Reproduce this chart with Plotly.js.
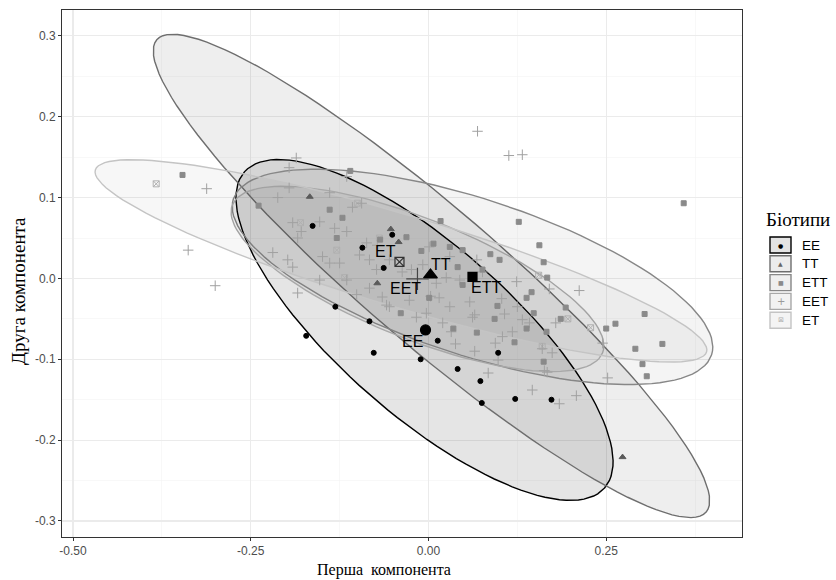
<!DOCTYPE html>
<html>
<head>
<meta charset="utf-8">
<script src="https://cdn.plot.ly/plotly-3.0.1.min.js"></script>
<style>html,body{margin:0;padding:0;background:#fff;}#chart{width:836px;height:580px;}</style>
</head>
<body>
<div id="chart"></div>
<script>
// ---- data ----
var groups = ["EE", "TT", "ETT", "EET", "ET"];

var eeX = [-0.163,-0.093,-0.063,-0.051,-0.131,-0.083,-0.077,0.013,-0.011,0.041,0.098,0.073,0.075,0.122,0.173,-0.172];
var eeY = [0.065,0.038,0.013,0.054,-0.035,-0.053,-0.092,-0.077,-0.100,-0.112,-0.092,-0.127,-0.154,-0.149,-0.150,-0.071];

var ttX = [-0.167,-0.053,-0.042,-0.072,0.273];
var ttY = [0.101,0.061,0.045,-0.006,-0.221];

var ettX = [-0.346,-0.239,-0.139,-0.121,-0.129,-0.110,-0.031,-0.010,0.007,0.017,0.030,0.048,0.087,0.100,0.127,0.041,0.048,-0.039,0.035,0.068,0.001,0.097,0.138,0.121,0.093,-0.068,0.359,0.156,0.162,0.167,0.145,0.148,0.193,0.186,0.138,0.166,0.162,0.263,0.250,0.304,0.329,0.291,0.301,0.307,0.076];
var ettY = [0.128,0.090,0.085,0.075,0.050,0.133,0.051,0.034,0.043,0.071,0.039,0.035,0.030,0.023,0.070,0.014,-0.008,-0.043,-0.062,-0.067,-0.024,-0.034,-0.024,-0.079,-0.050,0.048,0.093,0.041,0.020,0.001,-0.017,-0.043,-0.036,-0.050,-0.062,-0.066,-0.103,-0.056,-0.062,-0.044,-0.081,-0.087,-0.106,-0.121,0.011];

var eetX = [0.069,0.113,0.132,-0.312,-0.338,-0.300,-0.186,-0.196,-0.115,0.146,0.184,0.208,0.252,0.084,0.098,0.094,0.065,0.038,0.174,0.160,0.167,0.163,0.245,0.124,0.212,0.179,0.118,0.068,0.107,0.132,0.170,0.103,0.062,0.125,-0.196,-0.212,-0.139,-0.107,-0.094,-0.191,-0.179,-0.184,-0.153,-0.132,-0.115,-0.087,-0.072,-0.219,-0.198,-0.191,-0.149,-0.139,-0.125,-0.097,-0.083,-0.073,-0.055,-0.037,-0.024,-0.008,0.001,0.030,0.011,0.025,0.044,0.076,-0.083,-0.153,-0.115,-0.101,-0.065,-0.055,-0.027,0.003,0.015,0.030,0.058,0.065,-0.003,-0.017,0.020,0.032,0.104,0.142,-0.059,-0.184];
var eetY = [0.182,0.152,0.153,0.111,0.035,-0.009,0.149,0.137,0.126,-0.138,-0.155,-0.145,-0.123,-0.117,-0.101,-0.080,-0.090,-0.081,-0.092,-0.087,-0.116,-0.114,-0.080,-0.004,-0.015,-0.055,-0.066,0.023,-0.044,-0.051,-0.013,-0.025,-0.048,-0.035,0.112,0.100,0.106,0.088,0.093,0.069,0.058,0.050,0.070,0.062,0.058,0.044,0.041,0.032,0.023,0.014,0.027,0.019,0.019,0.029,0.023,0.011,0.023,0.008,0.011,0.017,0.039,0.027,-0.006,0.001,-0.002,0.008,-0.012,-0.002,-0.002,-0.020,-0.023,-0.035,-0.027,-0.022,-0.024,-0.035,-0.029,-0.045,-0.043,-0.048,-0.055,-0.066,-0.072,-0.055,-0.033,-0.018];

var etX = [-0.383,-0.180,-0.129,-0.118,-0.069,-0.100,0.155,0.196,0.160,0.228];
var etY = [0.117,0.069,0.035,0.001,0.050,0.093,0.004,-0.050,-0.084,-0.061];

// group centroids (EE, TT, ETT, EET, ET)
var centX = [-0.0042, 0.0028, 0.0619, -0.0155, -0.0408];
var centY = [-0.0637, 0.0043, 0.0019, -0.0006, 0.0204];

// confidence ellipses: centre and two conjugate semi-axis vectors (EE, TT, ETT, EET, ET)
var ellCx = [-0.0056, 0.0042, 0.0619, -0.0155, -0.0387];
var ellCy = [-0.0637, 0.0031, 0.0019, -0.0006, 0.0217];
var ellAx = [0.2533, 0.3864, 0.3363, 0.2603, 0.4299];
var ellAy = [-0.1955, -0.2920, -0.0965, -0.0916, -0.1126];
var ellBx = [-0.0788, -0.0623, -0.0341, -0.0314, -0.0184];
var ellBy = [-0.0789, -0.0638, -0.0918, -0.0689, -0.0546];

var xTicks = [-0.50, -0.25, 0.00, 0.25];
var xTickText = ["-0.50", "-0.25", "0.00", "0.25"];
var yTicks = [-0.3, -0.2, -0.1, 0.0, 0.1, 0.2, 0.3];
var yTickText = ["-0.3", "-0.2", "-0.1", "0.0", "0.1", "0.2", "0.3"];

// ---- styles ----
var lineCol = ["#000000", "#6e6e6e", "#878787", "#a8a8a8", "#c4c4c4"];
var fillCol = ["rgba(0,0,0,0.10)", "rgba(0,0,0,0.065)", "rgba(0,0,0,0.045)", "rgba(0,0,0,0.035)", "rgba(0,0,0,0.03)"];
var ptSym = ["circle", "triangle-up", "square", "cross-thin-open", "square-x-open"];
var ptCol = ["#000000", "#5a5a5a", "#8a8a8a", "#a0a0a0", "#b0b0b0"];
var ptSize = [5, 6, 5, 7.5, 6];

var traces = [];
for (var g = 0; g < groups.length; g++) {
  var ex = [], ey = [];
  for (var k = 0; k <= 120; k++) {
    var t = 2 * Math.PI * k / 120;
    ex.push(ellCx[g] + ellAx[g] * Math.cos(t) + ellBx[g] * Math.sin(t));
    ey.push(ellCy[g] + ellAy[g] * Math.cos(t) + ellBy[g] * Math.sin(t));
  }
  traces.push({
    x: ex, y: ey, type: "scatter", mode: "lines", fill: "toself",
    fillcolor: fillCol[g], line: {color: lineCol[g], width: 1.4},
    hoverinfo: "skip", showlegend: false
  });
}
var ptX = [eeX, ttX, ettX, eetX, etX];
var ptY = [eeY, ttY, ettY, eetY, etY];
var order = [4, 3, 2, 1, 0];
for (var i = 0; i < order.length; i++) {
  var g2 = order[i];
  traces.push({
    x: ptX[g2], y: ptY[g2], type: "scatter", mode: "markers", name: groups[g2],
    marker: {symbol: ptSym[g2], size: ptSize[g2], color: ptCol[g2],
             line: {color: ptCol[g2], width: 1}},
    showlegend: false
  });
}
var centSym = ["circle", "triangle-up", "square", "cross-thin-open", "square-x-open"];
var centSize = [10, 12, 9, 16, 9];
var centCol = ["#000000", "#000000", "#000000", "#444444", "#333333"];
for (var c = 0; c < groups.length; c++) {
  traces.push({
    x: [centX[c]], y: [centY[c]], type: "scatter", mode: "markers",
    marker: {symbol: centSym[c], size: centSize[c], color: centCol[c],
             line: {color: centCol[c], width: 1.2}},
    showlegend: false
  });
}

// label offsets in px (EE, TT, ETT, EET, ET)
var labDx = [-13, 11, 14, -12, -14];
var labDy = [-12, 10, -11, -10, 10];
var annotations = [];
for (var a = 0; a < groups.length; a++) {
  annotations.push({
    x: centX[a], y: centY[a], xref: "x", yref: "y", text: groups[a], showarrow: false,
    xshift: labDx[a], yshift: labDy[a],
    font: {family: "Liberation Sans, Arial, sans-serif", size: 16, color: "#000"}
  });
}

// frame geometry (px)
var L = 62, R = 742, T = 10, B = 537;
function px(xp) { return (xp - L) / (R - L); }
function py(yp) { return (B - yp) / (B - T); }

// axis titles
var serif = "Liberation Serif, Times New Roman, serif";
annotations.push({
  x: px(384), y: py(569.5), xref: "paper", yref: "paper", xanchor: "center", yanchor: "middle",
  text: "Перша  компонента", showarrow: false, borderpad: 0,
  font: {family: serif, size: 16, color: "#000"}
});
annotations.push({
  x: px(18), y: py(291), xref: "paper", yref: "paper", xanchor: "center", yanchor: "middle",
  text: "Друга компонента", showarrow: false, textangle: -90,
  font: {family: serif, size: 19, color: "#000"}
});

// manual legend
var shapes = [];
annotations.push({
  x: px(764), y: py(219), xref: "paper", yref: "paper", xanchor: "left", yanchor: "middle",
  text: "Біотипи", showarrow: false,
  font: {family: serif, size: 19, color: "#000"}
});
var legFill = ["#e3e3e3", "#ececec", "#efefef", "#f2f2f2", "#f4f4f4"];
var legGlyph = ["●", "▲", "■", "+", "⊠"];
var legGlyphSize = [6, 6, 6, 10, 7];
var legGlyphCol = ["#000", "#666", "#8a8a8a", "#9a9a9a", "#b0b0b0"];
for (var m = 0; m < groups.length; m++) {
  var yc = 245 + m * 18.8;
  shapes.push({
    type: "rect", xref: "paper", yref: "paper",
    x0: px(770), x1: px(791), y0: py(yc - 8), y1: py(yc + 8),
    fillcolor: legFill[m], line: {color: lineCol[m], width: 1.4}
  });
  annotations.push({
    x: px(780.5), y: py(yc), xref: "paper", yref: "paper", xanchor: "center", yanchor: "middle",
    text: legGlyph[m], showarrow: false,
    font: {family: "DejaVu Sans, sans-serif", size: legGlyphSize[m], color: legGlyphCol[m]}
  });
  annotations.push({
    x: px(800), y: py(yc), xref: "paper", yref: "paper", xanchor: "left", yanchor: "middle",
    text: groups[m], showarrow: false,
    font: {family: "Liberation Sans, Arial, sans-serif", size: 13.5, color: "#000"}
  });
}

var axFont = {family: "Liberation Sans, Arial, sans-serif", size: 12, color: "#4d4d4d"};
var layout = {
  width: 836, height: 580,
  margin: {l: L, r: 836 - R, t: T, b: 580 - B},
  paper_bgcolor: "#fff", plot_bgcolor: "#fff",
  showlegend: false,
  xaxis: {
    range: [-0.5155, 0.441], tickvals: xTicks, ticktext: xTickText,
    showgrid: true, gridcolor: "#ebebeb", gridwidth: 1.1,
    minor: {tickvals: [-0.375, -0.125, 0.125, 0.375], showgrid: true, gridcolor: "#f4f4f4", gridwidth: 0.6, ticks: ""},
    zeroline: false, showline: true, mirror: true, linecolor: "#333", linewidth: 1,
    ticks: "outside", ticklen: 3, tickcolor: "#333", tickfont: axFont
  },
  yaxis: {
    range: [-0.3198, 0.332], tickvals: yTicks, ticktext: yTickText,
    showgrid: true, gridcolor: "#ebebeb", gridwidth: 1.1,
    minor: {tickvals: [-0.25, -0.15, -0.05, 0.05, 0.15, 0.25], showgrid: true, gridcolor: "#f4f4f4", gridwidth: 0.6, ticks: ""},
    zeroline: false, showline: true, mirror: true, linecolor: "#333", linewidth: 1,
    ticks: "outside", ticklen: 3, tickcolor: "#333", tickfont: axFont
  },
  shapes: shapes,
  annotations: annotations
};
Plotly.newPlot("chart", traces, layout, {displayModeBar: false, staticPlot: true});
</script>
</body>
</html>
